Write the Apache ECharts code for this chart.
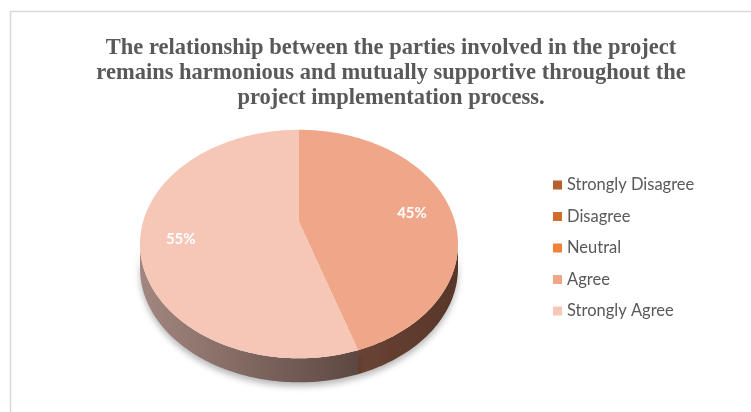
<!DOCTYPE html>
<html>
<head>
<meta charset="utf-8">
<script src="https://cdn.jsdelivr.net/npm/echarts@6/dist/echarts.min.js"></script>
<style>
  html, body { margin: 0; padding: 0; background: #ffffff; }
  #chart { width: 751px; height: 412px; }
</style>
</head>
<body>
<div id="chart"></div>
<script>
// Survey responses (percent of respondents)
const categories = ['Strongly Disagree', 'Disagree', 'Neutral', 'Agree', 'Strongly Agree'];
const values = [0, 0, 0, 45, 55];
const titleText = 'The relationship between the parties involved in the project\nremains harmonious and mutually supportive throughout the\nproject implementation process.';

// Styling
const topColors = ['#B4612F', '#CF6C2E', '#EE8238', '#F0A688', '#F6C6B6'];
const sideColors = [
  ['#7a3f1c', '#5a2c12'],
  ['#8a4519', '#663210'],
  ['#a4561f', '#7a3f15'],
  ['#6a4334', '#573629'],
  ['#a28780', '#5d4841']
];

// Tilted-disc geometry for the pie
const CX = 299, CY = 222;      // projected centre of the disc
const RX = 156, RY = 110;      // horizontal / vertical radii
const PERSP = 0.193;           // perspective factor (far edge shrinks)
const DEPTH = 24;              // thickness of the disc
const LABEL_R = 0.75;
const LABEL_DY = 4;

const total = values.reduce((a, b) => a + b, 0);

function proj(theta, r) {
  const w = 1 + PERSP * Math.cos(theta) * r;
  return [CX + RX * r * Math.sin(theta) / w, CY - RY * r * Math.cos(theta) / w];
}

function arcPoints(a0, a1, r) {
  const pts = [];
  const n = Math.max(2, Math.ceil((a1 - a0) / (Math.PI / 180)));
  for (let k = 0; k <= n; k++) pts.push(proj(a0 + (a1 - a0) * k / n, r));
  return pts;
}

function sliceRenderer(idx) {
  return function (params, api) {
    const v = values[idx];
    if (!v) return { type: 'group', children: [] };
    let before = 0;
    for (let i = 0; i < idx; i++) before += values[i];
    const a0 = before / total * Math.PI * 2;
    const a1 = (before + v) / total * Math.PI * 2;
    const children = [];

    // visible front wall of the slice
    const frontL = Math.acos(-PERSP);
    const frontR = Math.PI * 2 - frontL;
    const s0 = Math.max(a0, frontL), s1 = Math.min(a1, frontR);
    if (s1 > s0) {
      const rim = arcPoints(s0, s1, 1);
      const low = rim.map(p => [p[0], p[1] + DEPTH]).reverse();
      children.push({
        type: 'polygon',
        shape: { points: rim.concat(low) },
        style: {
          fill: new echarts.graphic.LinearGradient(0, 0, 1, 0, [
            { offset: 0, color: sideColors[idx][0] },
            { offset: 1, color: sideColors[idx][1] }
          ]),
          shadowBlur: 6,
          shadowOffsetY: 4,
          shadowColor: 'rgba(0,0,0,0.28)'
        }
      });
    }

    // top face
    const top = [proj(0, 0)].concat(arcPoints(a0, a1, 1));
    children.push({
      type: 'polygon',
      shape: { points: top },
      style: { fill: api.visual('color') }
    });

    // percentage label
    const mid = (a0 + a1) / 2;
    const lp = proj(mid, LABEL_R);
    children.push({
      type: 'text',
      x: lp[0], y: lp[1] + LABEL_DY,
      style: {
        text: Math.round(v / total * 100) + '%',
        fill: '#ffffff',
        font: 'bold 15px Lato',
        align: 'center',
        verticalAlign: 'middle'
      }
    });
    return { type: 'group', children };
  };
}

const chart = echarts.init(document.getElementById('chart'), null, { renderer: 'canvas' });
chart.setOption({
  animation: false,
  backgroundColor: '#ffffff',
  title: {
    text: titleText,
    left: 391,
    top: 36,
    textAlign: 'center',
    padding: 0,
    textStyle: {
      fontFamily: 'Liberation Serif',
      fontWeight: 'bold',
      fontSize: 22.5,
      lineHeight: 25,
      color: '#595959'
    }
  },
  legend: {
    data: categories,
    orient: 'vertical',
    left: 548,
    top: 171,
    icon: 'rect',
    itemWidth: 9,
    itemHeight: 9,
    itemGap: 13.5,
    itemTextGap: 6,
    selectedMode: false,
    textStyle: { fontFamily: 'Lato', fontSize: 16.5, color: '#595959', lineHeight: 18 }
  },
  graphic: [{
    type: 'rect',
    shape: { x: 10.5, y: 11.5, width: 800, height: 450 },
    style: { fill: 'none', stroke: '#d9d9d9', lineWidth: 1.5 },
    silent: true
  }],
  series: categories.map((name, i) => ({
    type: 'custom',
    name: name,
    coordinateSystem: 'none',
    itemStyle: { color: topColors[i] },
    data: [values[i]],
    renderItem: sliceRenderer(i)
  }))
});
</script>
</body>
</html>
